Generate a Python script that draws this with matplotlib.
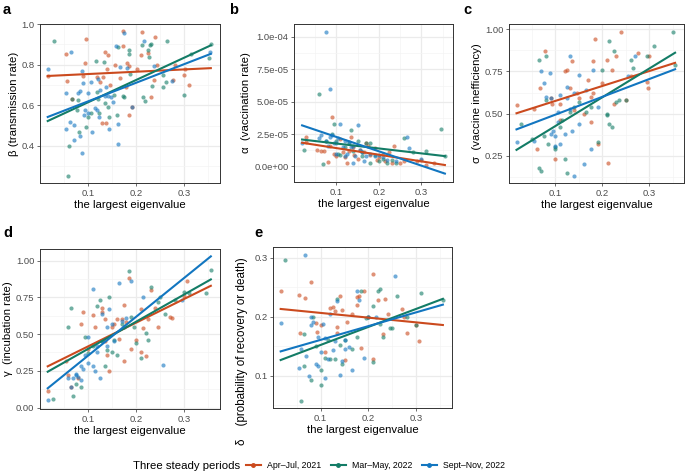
import numpy as np
import matplotlib
matplotlib.use('Agg')
import matplotlib.pyplot as plt
from matplotlib.lines import Line2D
from matplotlib.ticker import MultipleLocator

plt.rcParams['font.family'] = ['Liberation Sans', 'DejaVu Sans']

# -----------------------------
# Data
# -----------------------------
PERIODS = ['Apr–Jul, 2021', 'Mar–May, 2022', 'Sept–Nov, 2022']
COLORS = ['#CB4A1E', '#137C66', '#1276C0']

# panel a: beta (transmission rate)
a_x_2021 = [0.017, 0.055, 0.057, 0.097, 0.094, 0.090, 0.068, 0.120, 0.125, 0.136, 0.141, 0.140, 0.132, 0.146,
            0.130, 0.138, 0.157, 0.174, 0.173, 0.182, 0.186, 0.180, 0.185, 0.192, 0.203, 0.213, 0.210, 0.225,
            0.240, 0.243, 0.238, 0.231, 0.280, 0.277, 0.300, 0.310, 0.301, 0.166]
a_y_2021 = [0.745, 0.851, 0.720, 0.925, 0.806, 0.744, 0.633, 0.740, 0.715, 0.862, 0.848, 0.780, 0.740, 0.700,
            0.515, 0.515, 0.797, 0.964, 0.892, 0.810, 0.795, 0.690, 0.554, 0.593, 0.780, 0.960, 0.848, 0.856,
            0.934, 0.800, 0.724, 0.640, 0.800, 0.724, 0.750, 0.700, 0.777, 0.733]
a_x_2022a = [0.029, 0.060, 0.062, 0.081, 0.067, 0.078, 0.079, 0.097, 0.100, 0.107, 0.117, 0.119, 0.122, 0.124,
             0.133, 0.136, 0.141, 0.143, 0.154, 0.160, 0.162, 0.173, 0.176, 0.185, 0.186, 0.188, 0.212, 0.215,
             0.218, 0.225, 0.227, 0.228, 0.233, 0.256, 0.265, 0.256, 0.263, 0.300, 0.313, 0.352, 0.355, 0.231]
a_y_2022a = [0.916, 0.254, 0.400, 0.470, 0.630, 0.577, 0.626, 0.495, 0.544, 0.560, 0.820, 0.667, 0.633, 0.560,
             0.813, 0.610, 0.590, 0.544, 0.650, 0.553, 0.885, 0.646, 0.643, 0.872, 0.852, 0.754, 0.897, 0.643,
             0.620, 0.872, 0.840, 0.897, 0.695, 0.692, 0.918, 0.750, 0.716, 0.650, 0.852, 0.834, 0.902, 0.902]
a_x_2022b = [0.017, 0.055, 0.055, 0.066, 0.064, 0.072, 0.071, 0.083, 0.087, 0.079, 0.083, 0.087, 0.090, 0.092,
             0.095, 0.100, 0.100, 0.106, 0.109, 0.115, 0.120, 0.121, 0.124, 0.126, 0.135, 0.138, 0.142, 0.144,
             0.148, 0.153, 0.158, 0.162, 0.163, 0.167, 0.176, 0.181, 0.192, 0.216, 0.238, 0.275, 0.354]
a_y_2022b = [0.779, 0.662, 0.482, 0.861, 0.520, 0.502, 0.430, 0.449, 0.364, 0.662, 0.672, 0.769, 0.708, 0.552,
             0.577, 0.560, 0.659, 0.716, 0.470, 0.585, 0.577, 0.728, 0.541, 0.674, 0.646, 0.689, 0.646, 0.482,
             0.639, 0.618, 0.892, 0.508, 0.410, 0.790, 0.957, 0.782, 0.590, 0.918, 0.793, 0.720, 0.864]

# panel b: alpha (vaccination rate), units of 1e-5
b_x_2021 = [0.028, 0.030, 0.056, 0.065, 0.072, 0.080, 0.085, 0.091, 0.095, 0.100, 0.110, 0.115, 0.120, 0.125,
            0.130, 0.135, 0.140, 0.142, 0.150, 0.155, 0.165, 0.170, 0.175, 0.180, 0.190, 0.195, 0.200, 0.210,
            0.215, 0.225, 0.230, 0.235, 0.250, 0.260, 0.290, 0.300, 0.310, 0.330]
b_y_2021 = [2.3, 1.9, 1.3, 1.2, 1.2, 0.35, 1.6, 3.83, 1.0, 0.8, 2.1, 1.1, 0.7, 0.3,
            1.2, 2.3, 1.5, 0.9, 0.6, 1.3, 1.1, 1.8, 1.6, 0.9, 1.4, 0.5, 0.7, 1.0,
            0.4, 1.1, 0.3, 1.6, 0.3, 0.4, 0.4, 0.5, 0.1, 0.3]
b_x_2022a = [0.060, 0.025, 0.070, 0.075, 0.090, 0.095, 0.100, 0.105, 0.110, 0.120, 0.130, 0.135, 0.140, 0.150,
             0.160, 0.170, 0.180, 0.190, 0.200, 0.210, 0.220, 0.230, 0.240, 0.260, 0.280, 0.310, 0.345, 0.355,
             0.160, 0.180]
b_y_2022a = [5.6, 1.3, 0.2, 2.0, 2.5, 3.3, 2.0, 1.0, 0.9, 1.5, 1.9, 2.8, 1.2, 2.0,
             0.8, 1.8, 1.8, 0.9, 0.4, 0.6, 0.3, 0.5, 0.3, 2.2, 1.1, 1.2, 2.9, 0.8,
             1.1, 0.3]
b_x_2022b = [0.077, 0.085, 0.020, 0.060, 0.065, 0.075, 0.080, 0.085, 0.090, 0.095, 0.100, 0.105, 0.110, 0.115,
             0.120, 0.125, 0.130, 0.135, 0.140, 0.145, 0.150, 0.155, 0.160, 0.165, 0.170, 0.180, 0.190, 0.200,
             0.210, 0.220, 0.240, 0.265, 0.270, 0.300, 0.100, 0.120, 0.140]
b_y_2022b = [10.4, 6.0, 1.8, 2.2, 2.4, 2.0, 1.6, 2.3, 2.4, 1.8, 1.8, 2.2, 3.3, 1.5,
             2.0, 1.0, 1.8, 1.5, 1.6, 0.8, 3.2, 1.3, 1.1, 0.4, 0.8, 1.0, 0.8, 0.9,
             0.7, 0.5, 0.4, 2.3, 1.4, 0.6, 1.0, 0.8, 0.3]

# panel c: sigma (vaccine inefficiency)
c_x_2021 = [0.017, 0.055, 0.060, 0.068, 0.078, 0.090, 0.093, 0.098, 0.110, 0.120, 0.125, 0.130, 0.135, 0.140,
            0.145, 0.150, 0.160, 0.170, 0.175, 0.175, 0.180, 0.185, 0.190, 0.200, 0.210, 0.212, 0.220, 0.225,
            0.230, 0.240, 0.250, 0.260, 0.275, 0.295, 0.300, 0.298, 0.180, 0.110]
c_y_2021 = [0.55, 0.53, 0.29, 0.65, 0.87, 0.59, 0.56, 0.23, 0.56, 0.75, 0.76, 0.65, 0.81, 0.52,
            0.62, 0.59, 0.50, 0.70, 0.45, 0.60, 0.81, 0.94, 0.32, 0.68, 0.82, 0.21, 0.76, 0.56,
            0.84, 0.98, 0.58, 0.72, 0.86, 0.69, 0.84, 0.65, 0.62, 0.46]
c_x_2022a = [0.027, 0.050, 0.065, 0.065, 0.070, 0.075, 0.080, 0.085, 0.100, 0.100, 0.110, 0.115, 0.120, 0.125,
             0.130, 0.140, 0.150, 0.165, 0.175, 0.190, 0.200, 0.210, 0.215, 0.215, 0.220, 0.225, 0.230, 0.235,
             0.250, 0.260, 0.265, 0.295, 0.310, 0.350, 0.355, 0.210, 0.080]
c_y_2022a = [0.44, 0.35, 0.82, 0.18, 0.16, 0.37, 0.84, 0.32, 0.29, 0.30, 0.42, 0.46, 0.23, 0.15,
             0.51, 0.54, 0.57, 0.51, 0.54, 0.33, 0.76, 0.49, 0.44, 0.93, 0.42, 0.87, 0.57, 0.58,
             0.58, 0.82, 0.77, 0.84, 0.90, 0.98, 0.79, 0.50, 0.58]
c_x_2022b = [0.017, 0.055, 0.070, 0.075, 0.080, 0.088, 0.090, 0.095, 0.100, 0.100, 0.105, 0.110, 0.110, 0.120,
             0.125, 0.130, 0.130, 0.135, 0.140, 0.140, 0.150, 0.150, 0.165, 0.175, 0.180, 0.190, 0.255, 0.270,
             0.125, 0.160, 0.090, 0.105]
c_y_2022b = [0.33, 0.34, 0.75, 0.68, 0.60, 0.74, 0.38, 0.40, 0.31, 0.37, 0.51, 0.61, 0.32, 0.38,
             0.66, 0.84, 0.53, 0.40, 0.13, 0.62, 0.73, 0.44, 0.64, 0.29, 0.76, 0.54, 0.72, 0.84,
             0.59, 0.20, 0.59, 0.45]

# panel d: gamma (incubation rate)
d_x_2021 = [0.017, 0.055, 0.060, 0.065, 0.080, 0.085, 0.090, 0.100, 0.110, 0.115, 0.130, 0.130, 0.135, 0.140,
            0.145, 0.150, 0.160, 0.165, 0.170, 0.175, 0.175, 0.180, 0.185, 0.190, 0.200, 0.210, 0.210, 0.215,
            0.220, 0.225, 0.230, 0.240, 0.245, 0.270, 0.275, 0.300, 0.305, 0.135, 0.155]
d_y_2021 = [0.11, 0.32, 0.22, 0.14, 0.20, 0.57, 0.65, 0.40, 0.63, 0.55, 0.65, 0.68, 0.60, 0.36,
            0.25, 0.55, 0.60, 0.47, 0.60, 0.70, 0.32, 0.58, 0.88, 0.40, 0.46, 0.67, 0.38, 0.54,
            0.35, 0.60, 0.80, 0.68, 0.55, 0.62, 0.61, 0.76, 0.86, 0.45, 0.57]
d_x_2022a = [0.027, 0.060, 0.065, 0.070, 0.075, 0.085, 0.095, 0.100, 0.110, 0.120, 0.125, 0.130, 0.135, 0.140,
             0.145, 0.150, 0.155, 0.160, 0.175, 0.185, 0.190, 0.200, 0.210, 0.220, 0.225, 0.230, 0.245, 0.250,
             0.260, 0.280, 0.300, 0.310, 0.345, 0.355, 0.170, 0.195]
d_y_2022a = [0.06, 0.55, 0.68, 0.08, 0.16, 0.14, 0.48, 0.37, 0.42, 0.69, 0.73, 0.45, 0.28, 0.39,
             0.75, 0.38, 0.46, 0.36, 0.55, 0.93, 0.62, 0.44, 0.34, 0.51, 0.46, 0.82, 0.72, 0.75,
             0.64, 0.73, 0.79, 0.78, 0.78, 0.94, 0.57, 0.55]
d_x_2022b = [0.017, 0.060, 0.065, 0.070, 0.075, 0.080, 0.085, 0.085, 0.090, 0.095, 0.100, 0.100, 0.110, 0.110,
             0.115, 0.120, 0.125, 0.130, 0.130, 0.140, 0.145, 0.150, 0.155, 0.165, 0.170, 0.180, 0.190, 0.215,
             0.255, 0.295, 0.120, 0.140, 0.075]
d_y_2022b = [0.05, 0.20, 0.14, 0.20, 0.22, 0.21, 0.19, 0.28, 0.26, 0.36, 0.48, 0.30, 0.81, 0.28,
             0.25, 0.38, 0.20, 0.64, 0.45, 0.42, 0.67, 0.57, 0.45, 0.85, 0.59, 0.61, 0.86, 0.75,
             0.29, 0.73, 0.42, 0.55, 0.23]

# panel e: delta (probability of recovery or death)
e_x_2021 = [0.017, 0.055, 0.057, 0.068, 0.080, 0.090, 0.093, 0.100, 0.110, 0.120, 0.125, 0.130, 0.135, 0.135,
            0.140, 0.145, 0.150, 0.155, 0.165, 0.175, 0.175, 0.180, 0.185, 0.190, 0.200, 0.210, 0.210, 0.220,
            0.235, 0.230, 0.240, 0.270, 0.275, 0.300, 0.305, 0.280]
e_y_2021 = [0.243, 0.236, 0.172, 0.231, 0.259, 0.189, 0.174, 0.186, 0.140, 0.214, 0.217, 0.210, 0.183, 0.173,
            0.235, 0.211, 0.127, 0.190, 0.205, 0.220, 0.233, 0.235, 0.147, 0.244, 0.200, 0.272, 0.128, 0.228,
            0.229, 0.170, 0.205, 0.213, 0.200, 0.186, 0.159, 0.172]
e_x_2022a = [0.027, 0.060, 0.065, 0.065, 0.080, 0.085, 0.090, 0.100, 0.100, 0.110, 0.115, 0.120, 0.130, 0.135,
             0.140, 0.145, 0.150, 0.165, 0.175, 0.185, 0.195, 0.200, 0.210, 0.220, 0.225, 0.225, 0.230, 0.245,
             0.250, 0.260, 0.280, 0.300, 0.310, 0.355, 0.210]
e_y_2022a = [0.296, 0.057, 0.117, 0.170, 0.092, 0.200, 0.150, 0.084, 0.110, 0.130, 0.160, 0.128, 0.128, 0.229,
             0.152, 0.120, 0.160, 0.145, 0.166, 0.244, 0.198, 0.200, 0.123, 0.244, 0.247, 0.187, 0.166, 0.180,
             0.180, 0.235, 0.200, 0.185, 0.240, 0.228, 0.218]
e_x_2022b = [0.017, 0.055, 0.060, 0.068, 0.070, 0.075, 0.080, 0.085, 0.090, 0.095, 0.095, 0.100, 0.105, 0.110,
             0.110, 0.115, 0.120, 0.125, 0.130, 0.135, 0.140, 0.145, 0.150, 0.160, 0.165, 0.175, 0.180, 0.190,
             0.200, 0.215, 0.255, 0.080, 0.150]
e_y_2022b = [0.189, 0.113, 0.145, 0.305, 0.134, 0.100, 0.185, 0.191, 0.120, 0.116, 0.166, 0.140, 0.188, 0.096,
             0.163, 0.128, 0.205, 0.143, 0.158, 0.227, 0.101, 0.125, 0.145, 0.149, 0.109, 0.244, 0.228, 0.130,
             0.200, 0.199, 0.268, 0.200, 0.160]

b_ticks = [0.0, 2.5, 5.0, 7.5, 10.0]
b_tick_labels = ['0.0e+00', '2.5e-05', '5.0e-05', '7.5e-05', '1.0e-04']

# -----------------------------
# Figure layout (pixels -> fractions)
# -----------------------------
W, H = 685, 475
fig = plt.figure(figsize=(W / 100, H / 100), dpi=100)


def px_axes(x0, x1, y0, y1):
    return fig.add_axes([x0 / W, 1 - y1 / H, (x1 - x0) / W, (y1 - y0) / H])


GRID = '#EBEBEB'
TXT = '#4D4D4D'


def style(ax, xlim, ylim, ymaj, ymin):
    ax.set_xlim(*xlim)
    ax.set_ylim(*ylim)
    ax.set_xticks([0.1, 0.2, 0.3])
    ax.xaxis.set_minor_locator(MultipleLocator(0.05))
    ax.yaxis.set_major_locator(MultipleLocator(ymaj))
    ax.yaxis.set_minor_locator(MultipleLocator(ymin))
    ax.grid(which='major', color=GRID, lw=0.9)
    ax.grid(which='minor', color='#F4F4F4', lw=0.5)
    ax.set_axisbelow(True)
    for s in ax.spines.values():
        s.set_color('#333333')
        s.set_linewidth(0.7)
    ax.tick_params(which='major', length=2.5, width=0.5, color='#333333',
                   labelsize=6.8, labelcolor=TXT, pad=1.5)
    ax.tick_params(which='minor', length=0)
    ax.set_xlabel('the largest eigenvalue', fontsize=8.2, labelpad=2)


def draw(ax, groups):
    # linear fit per period, drawn over the panel's full x range
    allx = np.concatenate([np.array(g[0]) for g in groups])
    xx = np.array([allx.min(), allx.max()])
    for (xs, ys), col in zip(groups, COLORS):
        ax.scatter(xs, ys, s=9, color=col, alpha=0.6, lw=0, zorder=2)
    for (xs, ys), col in zip(groups, COLORS):
        k, b = np.polyfit(np.array(xs), np.array(ys), 1)
        ax.plot(xx, k * xx + b, color=col, lw=1.5, zorder=3)


XL = (0.001, 0.374)

ax_a = px_axes(40, 220, 24, 183)
draw(ax_a, [(a_x_2021, a_y_2021), (a_x_2022a, a_y_2022a), (a_x_2022b, a_y_2022b)])
style(ax_a, XL, (0.218, 1.0), 0.2, 0.1)
ax_a.set_ylabel('β (transmission rate)', fontsize=8.2, labelpad=2)

ax_b = px_axes(294, 453, 24, 182)
draw(ax_b, [(b_x_2021, b_y_2021), (b_x_2022a, b_y_2022a), (b_x_2022b, b_y_2022b)])
style(ax_b, XL, (-1.2, 11.0), 2.5, 1.25)
ax_b.set_yticks(b_ticks)
ax_b.set_yticklabels(b_tick_labels)
ax_b.set_ylabel('α  (vaccination rate)', fontsize=8.2, labelpad=2)

ax_c = px_axes(509, 684, 24, 183)
draw(ax_c, [(c_x_2021, c_y_2021), (c_x_2022a, c_y_2022a), (c_x_2022b, c_y_2022b)])
style(ax_c, XL, (0.09, 1.03), 0.25, 0.125)
ax_c.set_ylabel('σ  (vaccine inefficiency)', fontsize=8.2, labelpad=2)

ax_d = px_axes(40, 220, 249, 409)
draw(ax_d, [(d_x_2021, d_y_2021), (d_x_2022a, d_y_2022a), (d_x_2022b, d_y_2022b)])
style(ax_d, XL, (-0.01, 1.08), 0.25, 0.125)
ax_d.set_ylabel('γ  (incubation rate)', fontsize=8.2, labelpad=2)

ax_e = px_axes(273, 452, 247, 408)
draw(ax_e, [(e_x_2021, e_y_2021), (e_x_2022a, e_y_2022a), (e_x_2022b, e_y_2022b)])
style(ax_e, XL, (0.045, 0.318), 0.1, 0.05)
ax_e.set_ylabel('δ    (probability of recovery or death)', fontsize=8.4)
ax_e.yaxis.set_label_coords(-0.14, 0.35)

# panel tags
for lab, xp, yp in [('a', 3, 10), ('b', 229, 10), ('c', 463, 10), ('d', 3, 233), ('e', 254, 233)]:
    fig.text(xp / W, 1 - yp / H, lab, fontsize=10.5, fontweight='bold', va='center', ha='left')

# legend at the bottom
fig.text(240 / W, 1 - 466 / H, 'Three steady periods', fontsize=8.2, ha='right', va='center')
handles = [Line2D([0], [0], color=c, lw=1.5, marker='o', markersize=2.5) for c in COLORS]
fig.legend(handles, PERIODS, loc='center left', bbox_to_anchor=(246 / W, 1 - 466 / H),
           ncol=3, frameon=False, fontsize=6.3, handlelength=1.7, handletextpad=0.7,
           columnspacing=1.1, borderaxespad=0, borderpad=0)

fig.savefig('out.png', dpi=100)
